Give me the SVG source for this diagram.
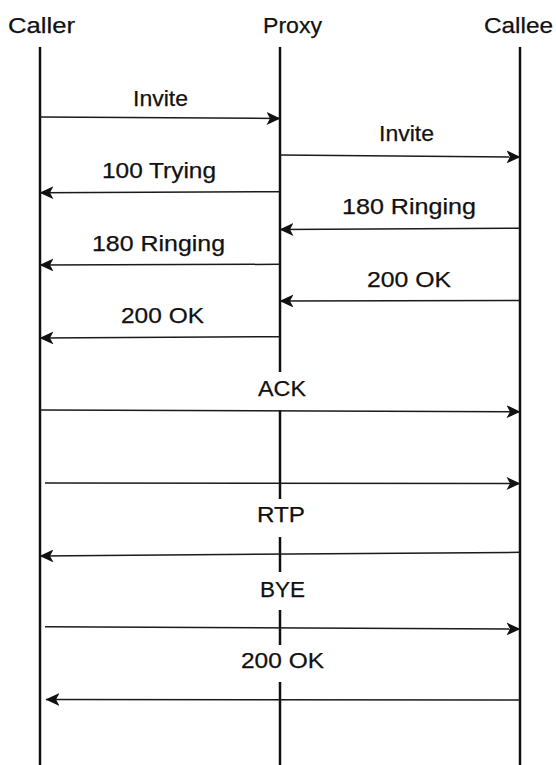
<svg xmlns="http://www.w3.org/2000/svg" width="556" height="765" viewBox="0 0 556 765">
  <style>
    .life { stroke: #111; stroke-width: 2.5; fill: none; }
    .msg { stroke: #1a1a1a; stroke-width: 1.5; fill: none; marker-end: url(#arr); }
    text { font-family: "Liberation Sans", Arial, sans-serif; font-size: 22px; fill: #111; stroke: #111; stroke-width: 0.25; }
  </style>
  <defs>
    <marker id="arr" viewBox="0 0 14 13" refX="13.5" refY="6.5" markerWidth="14" markerHeight="13" markerUnits="userSpaceOnUse" orient="auto">
      <path d="M0,0 L14,6.5 L0,13 L3.5,6.5 Z" fill="#111"/>
    </marker>
  </defs>
  <rect width="556" height="765" fill="#fff"/>

  <g id="caller">
    <text x="8" y="33" textLength="67" lengthAdjust="spacingAndGlyphs">Caller</text>
    <line class="life" x1="40" y1="47" x2="40" y2="765"/>
  </g>
  <g id="proxy">
    <text x="263" y="33" textLength="59" lengthAdjust="spacingAndGlyphs">Proxy</text>
    <path class="life" d="M280,47 V372 M280,410 V499 M280,537 V572 M280,610 V645 M280,682 V765"/>
  </g>
  <g id="callee">
    <text x="484" y="33" textLength="69" lengthAdjust="spacingAndGlyphs">Callee</text>
    <line class="life" x1="520" y1="47" x2="520" y2="765"/>
  </g>

  <g id="connectors">
    <g id="m1"><line class="msg" x1="40" y1="117" x2="280" y2="118.5"/>
      <text x="133" y="106" textLength="55" lengthAdjust="spacingAndGlyphs">Invite</text></g>
    <g id="m2"><line class="msg" x1="280" y1="155" x2="520" y2="157"/>
      <text x="379" y="141" textLength="55" lengthAdjust="spacingAndGlyphs">Invite</text></g>
    <g id="m3"><line class="msg" x1="280" y1="191.7" x2="40" y2="192.7"/>
      <text x="102" y="178" textLength="114" lengthAdjust="spacingAndGlyphs">100 Trying</text></g>
    <g id="m4"><line class="msg" x1="520" y1="228.3" x2="280" y2="229.5"/>
      <text x="342" y="214" textLength="134" lengthAdjust="spacingAndGlyphs">180 Ringing</text></g>
    <g id="m5"><line class="msg" x1="280" y1="264.3" x2="40" y2="265"/>
      <text x="92" y="251" textLength="133" lengthAdjust="spacingAndGlyphs">180 Ringing</text></g>
    <g id="m6"><line class="msg" x1="520" y1="300.5" x2="280" y2="301"/>
      <text x="367" y="286.5" textLength="84" lengthAdjust="spacingAndGlyphs">200 OK</text></g>
    <g id="m7"><line class="msg" x1="280" y1="336.7" x2="40" y2="338"/>
      <text x="121" y="323" textLength="83" lengthAdjust="spacingAndGlyphs">200 OK</text></g>
    <g id="m8"><line class="msg" x1="40" y1="410" x2="520" y2="411.7"/>
      <text x="258" y="395.5" textLength="48" lengthAdjust="spacingAndGlyphs">ACK</text></g>
    <g id="m9"><line class="msg" x1="45" y1="483" x2="520" y2="483.5"/></g>
    <g id="m10"><line class="msg" x1="520" y1="552.3" x2="40" y2="556"/>
      <text x="257" y="522" textLength="48" lengthAdjust="spacingAndGlyphs">RTP</text></g>
    <g id="m11"><line class="msg" x1="45" y1="626.7" x2="520" y2="629"/>
      <text x="260" y="597" textLength="45" lengthAdjust="spacingAndGlyphs">BYE</text></g>
    <g id="m12"><line class="msg" x1="520" y1="700" x2="46" y2="699.5"/>
      <text x="241" y="668" textLength="83" lengthAdjust="spacingAndGlyphs">200 OK</text></g>
  </g>
</svg>
